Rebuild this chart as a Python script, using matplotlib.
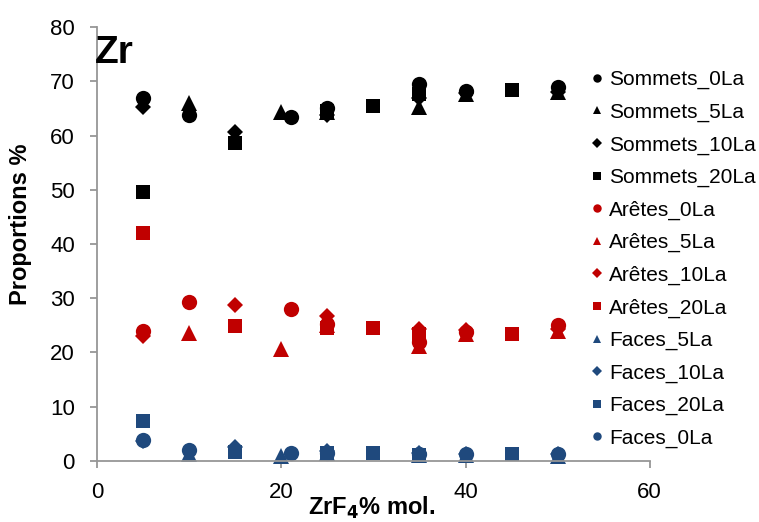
import matplotlib.pyplot as plt

plt.rcParams['font.family'] = ['Liberation Sans', 'DejaVu Sans']

BLACK = '#000000'
RED = '#C00000'
BLUE = '#1F497D'

# x = ZrF4 % mol., y = proportions %
x_0la = [5, 10, 21, 25, 35, 40, 50]
x_5la = [10, 20, 25, 35, 40, 50]
x_10la = [5, 15, 25, 35, 40, 50]
x_20la = [5, 15, 25, 30, 35, 45]

sommets_0la = [67.0, 63.8, 63.4, 65.0, 69.5, 68.2, 68.9]
sommets_5la = [66.0, 64.3, 64.3, 65.2, 67.6, 68.0]
sommets_10la = [65.2, 60.6, 63.8, 67.0, 67.8, 68.0]
sommets_20la = [49.6, 58.6, 64.5, 65.5, 67.6, 68.4]

aretes_0la = [24.0, 29.3, 28.1, 25.2, 22.0, 23.7, 25.0]
aretes_5la = [23.6, 20.6, 25.0, 21.2, 23.5, 24.0]
aretes_10la = [23.1, 28.8, 26.8, 24.3, 24.2, 24.3]
aretes_20la = [42.0, 24.8, 24.5, 24.6, 23.5, 23.4]

faces_5la = [1.3, 1.0, 1.5, 1.1, 1.1, 1.0]
faces_10la = [3.7, 2.6, 1.8, 1.5, 1.3, 1.2]
faces_20la = [7.3, 1.7, 1.5, 1.4, 1.1, 1.3]
faces_0la = [3.9, 2.1, 1.5, 1.4, 1.2, 1.3, 1.3]

series = [
    ('Sommets_0La', x_0la, sommets_0la, 'o', BLACK, 11),
    ('Sommets_5La', x_5la, sommets_5la, '^', BLACK, 11),
    ('Sommets_10La', x_10la, sommets_10la, 'D', BLACK, 8.5),
    ('Sommets_20La', x_20la, sommets_20la, 's', BLACK, 10),
    ('Arêtes_0La', x_0la, aretes_0la, 'o', RED, 11),
    ('Arêtes_5La', x_5la, aretes_5la, '^', RED, 11),
    ('Arêtes_10La', x_10la, aretes_10la, 'D', RED, 8.5),
    ('Arêtes_20La', x_20la, aretes_20la, 's', RED, 10),
    ('Faces_5La', x_5la, faces_5la, '^', BLUE, 11),
    ('Faces_10La', x_10la, faces_10la, 'D', BLUE, 8.5),
    ('Faces_20La', x_20la, faces_20la, 's', BLUE, 10),
    ('Faces_0La', x_0la, faces_0la, 'o', BLUE, 11),
]

fig = plt.figure(figsize=(7.59, 5.22), dpi=100)
ax = fig.add_axes([0.128, 0.117, 0.728, 0.831])

for label, xs, ys, mk, col, ms in series:
    ax.plot(xs, ys, linestyle='none', marker=mk, color=col, markersize=ms,
            markeredgewidth=0, label=label, clip_on=False)

ax.set_xlim(0, 60)
ax.set_ylim(0, 80)
ax.set_xticks([0, 20, 40, 60])
ax.set_yticks(range(0, 81, 10))

for side in ['top', 'right']:
    ax.spines[side].set_visible(False)
for side in ['left', 'bottom']:
    ax.spines[side].set_color('#969696')
    ax.spines[side].set_linewidth(1.3)
ax.tick_params(direction='out', length=5, width=1.3, color='#969696',
               labelsize=16)
ax.tick_params(axis='y', pad=11)
ax.tick_params(axis='x', pad=10)

ax.set_ylabel('Proportions %', fontsize=17, fontweight='bold')
ax.yaxis.set_label_coords(-0.118, 0.546)
ax.set_xlabel('ZrF$_\\mathbf{4}$% mol.', fontsize=17, fontweight='bold')
ax.xaxis.set_label_coords(0.497, -0.077)
ax.xaxis.label.set_va('top')
ax.text(-0.3, 78.6, 'Zr', fontsize=28, fontweight='bold', va='top', ha='left')

ax.legend(loc='upper left', bbox_to_anchor=(0.878, 0.92), frameon=False,
          fontsize=15, markerscale=0.55, handlelength=0.6, handletextpad=0.3,
          labelspacing=0.64, borderaxespad=0)

fig.savefig('out.png', dpi=100)
